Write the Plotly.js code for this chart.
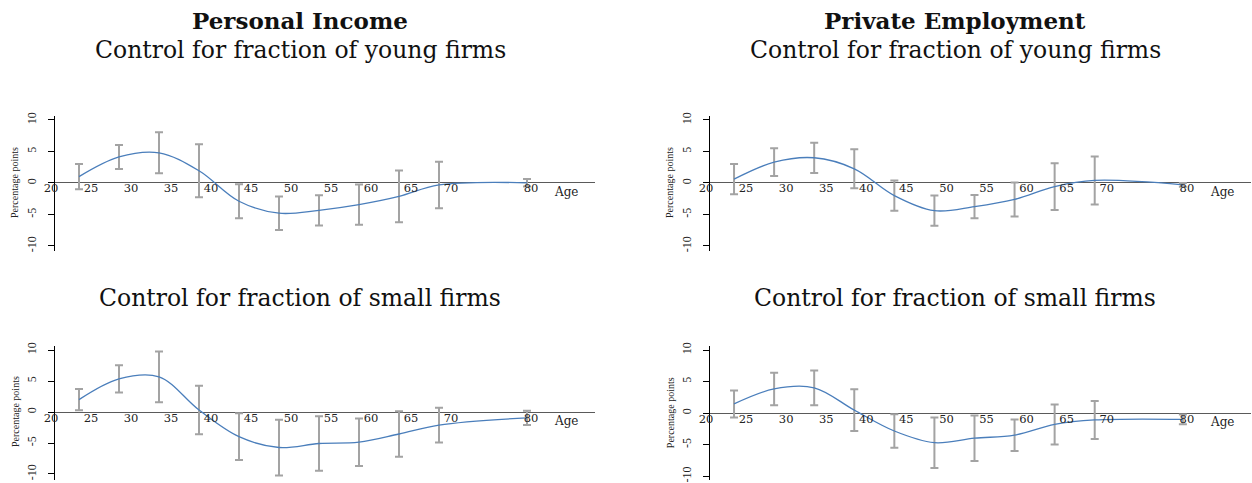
<!DOCTYPE html>
<html>
<head>
<meta charset="utf-8">
<script src="https://cdn.plot.ly/plotly-3.0.1.min.js"></script>
<style>html,body{margin:0;padding:0;background:#fff;}#chart{width:1252px;height:483px;}</style>
</head>
<body>
<div id="chart"></div>
<script>
// Age points (x) and tick labels
const ages = [23, 28, 33, 38, 43, 48, 53, 58, 63, 68, 79];
const xTickVals = [20, 25, 30, 35, 40, 45, 50, 55, 60, 65, 70, 80];
const yTickVals = [-10, -5, 0, 5, 10];
const yTickText = ['-10', '-5', '0', '5', '10'];

// Personal Income, control for fraction of young firms
const incomeYoung    = [1.0, 4.13, 4.79, 1.94, -2.9, -4.8, -4.34, -3.44, -2.14, -0.32, 0.03];
const incomeYoungErr = [2.0, 1.9, 3.25, 4.2, 2.7, 2.65, 2.4, 3.2, 4.1, 3.7, 0.6];
// Private Employment, control for fraction of young firms
const employYoung    = [0.6, 3.3, 4.0, 2.25, -2.0, -4.4, -3.76, -2.62, -0.58, 0.4, -0.3];
const employYoungErr = [2.4, 2.2, 2.4, 3.1, 2.4, 2.4, 1.85, 2.7, 3.7, 3.8, 0.3];
// Personal Income, control for fraction of small firms
const incomeSmall    = [2.0, 5.35, 5.68, 0.32, -3.98, -5.73, -5.08, -4.87, -3.55, -2.1, -0.94];
const incomeSmallErr = [1.7, 2.2, 4.1, 3.9, 3.76, 4.5, 4.4, 3.84, 3.66, 2.8, 1.16];
// Private Employment, control for fraction of small firms
const employSmall    = [1.46, 3.84, 4.02, 0.48, -2.83, -4.68, -3.97, -3.49, -1.79, -1.08, -0.98];
const employSmallErr = [2.14, 2.57, 2.75, 3.3, 2.67, 4.0, 3.6, 2.5, 3.17, 3.0, 0.77];

const colTitles = ['Personal Income', 'Private Employment'];
const rowTitles = ['Control for fraction of young firms', 'Control for fraction of small firms'];

const W = 1252, H = 483;
const lineColor = '#4a7ebb';
const errColor = '#a3a3a3';

function trace(y, err, xa, ya) {
  return {
    x: ages, y: y, xaxis: xa, yaxis: ya,
    type: 'scatter', mode: 'lines',
    line: {color: lineColor, width: 1.3, shape: 'spline'},
    error_y: {type: 'data', array: err, visible: true, color: errColor, thickness: 2, width: 4},
    hoverinfo: 'skip', showlegend: false
  };
}

const data = [
  trace(incomeYoung, incomeYoungErr, 'x', 'y'),
  trace(employYoung, employYoungErr, 'x2', 'y2'),
  trace(incomeSmall, incomeSmallErr, 'x3', 'y3'),
  trace(employSmall, employSmallErr, 'x4', 'y4')
];

// panel geometry in pixels
const panels = [
  {x0: 55,  x1: 595,  yTop: 116, yBot: 251, range: [-10.8, 10.63]},
  {x0: 710, x1: 1251, yTop: 116, yBot: 251, range: [-10.8, 10.63]},
  {x0: 55,  x1: 595,  yTop: 346, yBot: 480, range: [-10.97, 10.65]},
  {x0: 710, x1: 1251, yTop: 346, yBot: 480, range: [-10.6, 10.65]}
];

const layout = {
  width: W, height: H,
  margin: {l: 0, r: 0, t: 0, b: 0},
  paper_bgcolor: '#fff', plot_bgcolor: '#fff',
  showlegend: false,
  annotations: []
};

panels.forEach((p, i) => {
  const sfx = i === 0 ? '' : String(i + 1);
  const yDom = [1 - p.yBot / H, 1 - p.yTop / H];
  const zeroPix = p.yTop + (p.range[1] / (p.range[1] - p.range[0])) * (p.yBot - p.yTop);
  layout['xaxis' + sfx] = {
    domain: [p.x0 / W, p.x1 / W],
    range: [20, 87.5],
    anchor: 'free',
    position: 1 - zeroPix / H,
    showline: false, zeroline: false, showgrid: false,
    tickvals: xTickVals,
    ticks: '',
    ticklabelshift: -4,
    ticklabelstandoff: -3,
    tickfont: {family: 'DejaVu Serif', size: 11.5, color: '#222'},
    fixedrange: true
  };
  layout['yaxis' + sfx] = {
    domain: yDom,
    range: p.range,
    anchor: 'x' + sfx,
    showline: true, linecolor: '#000', linewidth: 1.5,
    ticks: 'outside', ticklen: 6, tickwidth: 1, tickcolor: '#000',
    tickvals: yTickVals, ticktext: yTickText,
    tickangle: -90,
    ticklabelstandoff: 7,
    tickfont: {family: 'Liberation Serif', size: 12, color: '#222'},
    zeroline: true, zerolinecolor: '#5a5a5a', zerolinewidth: 1,
    showgrid: false,
    fixedrange: true
  };
  layout.annotations.push({
    xref: 'paper', yref: 'paper',
    x: (p.x0 - 40) / W, y: 1 - zeroPix / H,
    text: 'Percentage points', textangle: -90,
    showarrow: false, xanchor: 'center', yanchor: 'middle',
    font: {family: 'Liberation Serif', size: 10, color: '#222'}
  });
  layout.annotations.push({
    xref: 'x' + sfx, yref: 'y' + sfx,
    x: 83.9, y: 0, yanchor: 'top', yshift: 0,
    text: 'Age', showarrow: false,
    font: {family: 'DejaVu Serif', size: 12, color: '#222'}
  });
});

const colCenters = [300, 955];
colCenters.forEach((cx, c) => {
  layout.annotations.push({
    xref: 'paper', yref: 'paper', x: cx / W, y: 1 - 20 / H,
    xanchor: 'center', yanchor: 'middle', showarrow: false,
    text: '<b>' + colTitles[c] + '</b>',
    font: {family: 'DejaVu Serif', size: 23, color: '#111'}
  });
  layout.annotations.push({
    xref: 'paper', yref: 'paper', x: cx / W, y: 1 - 50 / H,
    xanchor: 'center', yanchor: 'middle', showarrow: false,
    text: rowTitles[0],
    font: {family: 'DejaVu Serif', size: 23.5, color: '#111'}
  });
  layout.annotations.push({
    xref: 'paper', yref: 'paper', x: cx / W, y: 1 - 298 / H,
    xanchor: 'center', yanchor: 'middle', showarrow: false,
    text: rowTitles[1],
    font: {family: 'DejaVu Serif', size: 23.5, color: '#111'}
  });
});

Plotly.newPlot('chart', data, layout, {displayModeBar: false, staticPlot: true});
</script>
</body>
</html>
